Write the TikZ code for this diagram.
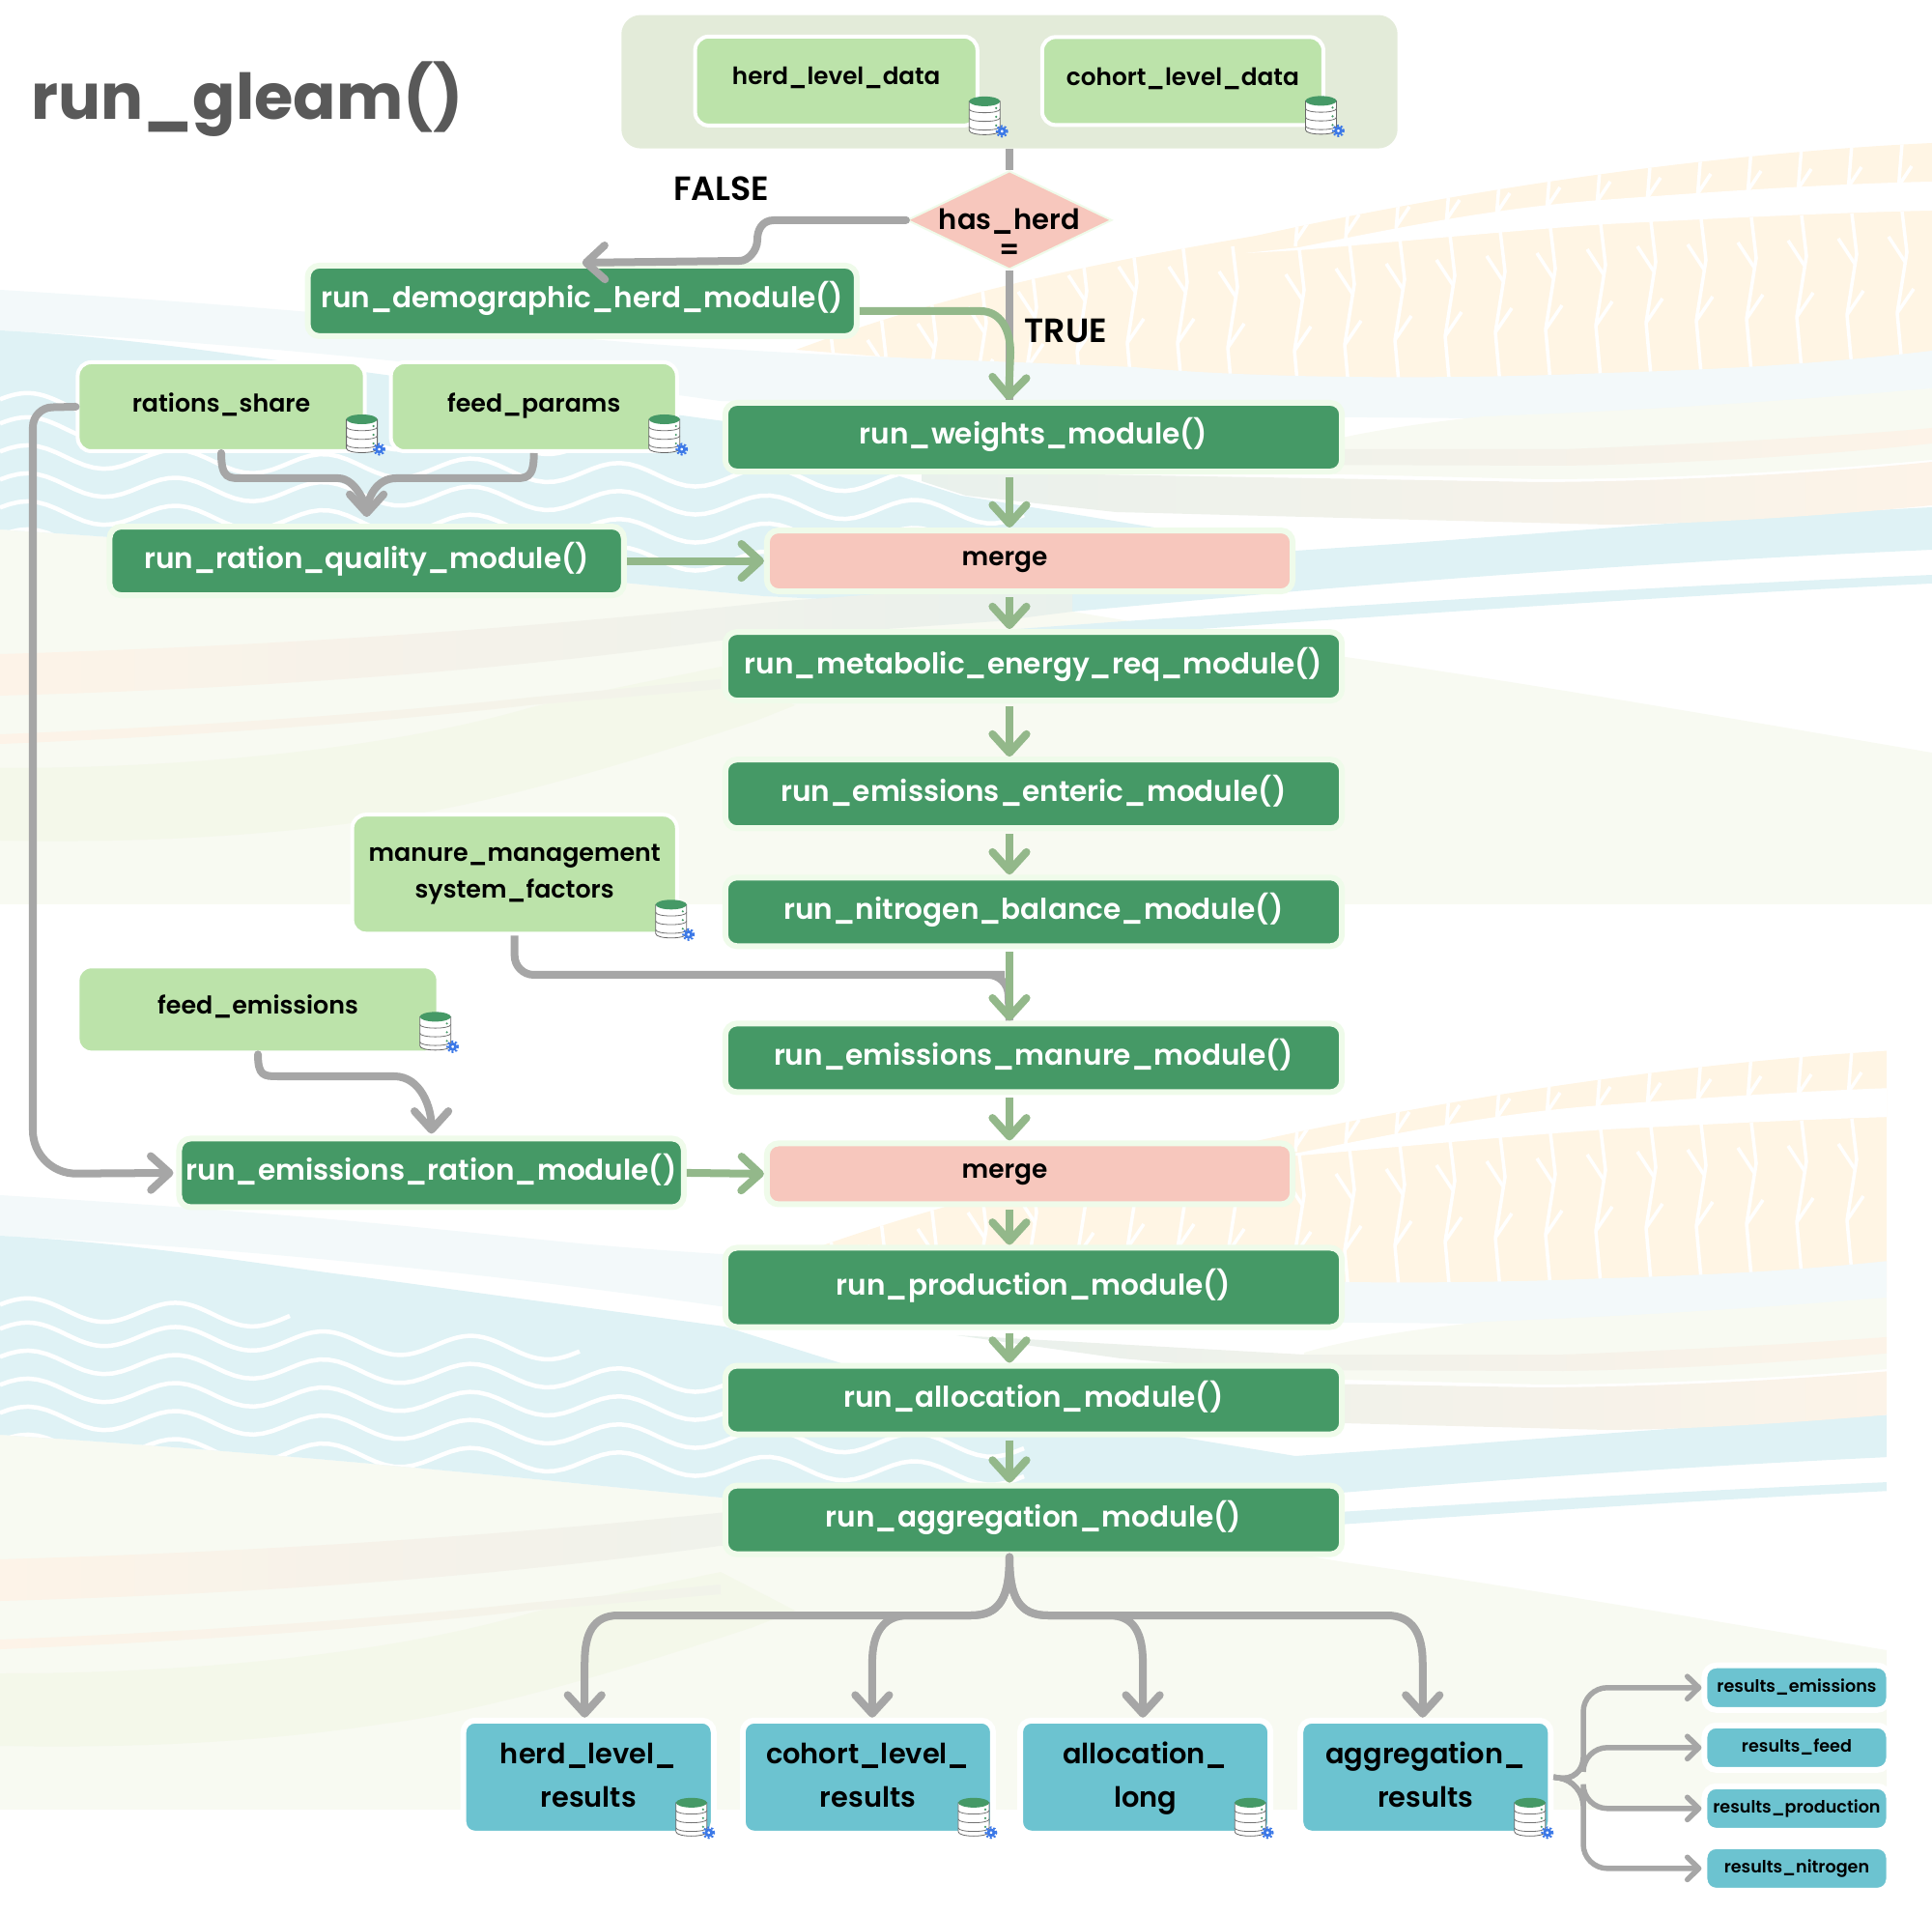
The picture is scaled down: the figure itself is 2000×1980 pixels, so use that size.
\documentclass[tikz,border=0pt]{standalone}
\usepackage{fontspec}
\setmainfont{Poppins}[BoldFont=* SemiBold]
\newfontfamily\headfont{Poppins}
\usetikzlibrary{positioning, arrows.meta, shapes.geometric}

\definecolor{modgreen}{HTML}{459966}
\definecolor{modedge}{HTML}{EFFBEA}
\definecolor{datagreen}{HTML}{BCE3AA}
\definecolor{mergepink}{HTML}{F7C7BD}
\definecolor{resblue}{HTML}{6CC3D0}
\definecolor{panelgreen}{HTML}{E3EBD9}
\definecolor{sage}{HTML}{93B88A}
\definecolor{pipegray}{HTML}{A6A6A6}
\definecolor{titlegray}{HTML}{595959}
\definecolor{gearblue}{HTML}{3B78E7}
\definecolor{bgcream}{HTML}{FFF5E4}
\definecolor{bgblue}{HTML}{DFF2F5}
\definecolor{bgpale}{HTML}{F3F9FA}
\definecolor{bgfield}{HTML}{F8FAF2}
\definecolor{bgmoss}{HTML}{F4F8EA}
\definecolor{bgmist}{HTML}{E9F1EC}
\definecolor{bgdust}{HTML}{F1F3EA}
\definecolor{bgpeach}{HTML}{FDF3E8}

\tikzset{
    modbox/.style={rectangle, rounded corners=.12cm, fill=modgreen, draw=modedge,
        line width=.06cm, minimum width=6.38cm, minimum height=.71cm, inner sep=0pt,
        text=white, text height=.22cm, text depth=.07cm,
        font=\fontsize{8.4}{10}\selectfont\bfseries},
    mergebox/.style={modbox, fill=mergepink, minimum width=5.44cm, minimum height=.63cm,
        text=black, text height=.15cm, text depth=.06cm,
        font=\fontsize{7.5}{9}\selectfont\bfseries},
    databox/.style={rectangle, rounded corners=.14cm, fill=datagreen, draw=white,
        line width=.04cm, inner sep=0pt, align=center, text=black,
        font=\fontsize{7.2}{10.9}\selectfont\bfseries},
    resbox/.style={rectangle, rounded corners=.12cm, fill=resblue, draw=white,
        line width=.06cm, minimum width=2.59cm, minimum height=1.17cm, inner sep=0pt,
        align=center, text=black, text height=.73cm, text depth=.1cm,
        font=\fontsize{8.2}{13}\selectfont\bfseries},
    tablebox/.style={resbox, minimum width=1.91cm, minimum height=.46cm,
        text height=.22cm, text depth=.12cm, font=\fontsize{5}{6}\selectfont\bfseries},
    decision/.style={diamond, fill=mergepink, draw=modedge, line width=.02cm,
        minimum width=2.12cm, minimum height=1.02cm, inner sep=0pt},
    flag/.style={inner sep=0pt, font=\fontsize{9.9}{12}\selectfont\bfseries},
    pipe/.style={draw=pipegray, line width=.08cm, line cap=round},
    pipehead/.style={pipe, -{Straight Barb[length=5.5pt,width=10pt,round]}},
    flow/.style={pipehead, draw=sage, line cap=butt},
    thinpipe/.style={draw=pipegray, line width=.055cm,
        -{Straight Barb[length=3.4pt,width=6.6pt,round]}},
    dbicon/.pic={
        \draw[draw=black!60, line width=.008cm, fill=white] (-16,5) -- (-16,35)
            .. controls (-16,41) and (16,41) .. (16,35) -- (16,5) -- cycle;
        \foreach \h in {13,22,31} {
            \draw[draw=black!55, line width=.008cm] (-16,\h)
                .. controls (-16,\h+5) and (16,\h+5) .. (16,\h);
            \fill[modgreen] (12,\h-1) circle (.012cm);
        }
        \fill[modgreen] (0,5) ellipse [x radius=.16cm, y radius=.05cm];
        \draw[gearblue, line width=.028cm, fill=white] (18,36) circle (.03cm);
        \draw[gearblue, line width=.02cm, dash pattern=on .02cm off .02cm] (18,36) circle (.055cm);
    },
    bgsheet/.pic={
        \fill[bgcream] (824,362) .. controls (1000,297) and (1150,270) .. (1300,244)
            .. controls (1500,200) and (1750,160) .. (2000,148) -- (2000,400) -- (1300,400) -- cycle;
        \fill[white] (1290,262) -- (1345,256) .. controls (1450,235) and (1550,215) .. (1658,207)
            .. controls (1780,198) and (1900,190) .. (2000,188) -- (2000,218)
            .. controls (1900,220) and (1780,226) .. (1663,232) .. controls (1550,240) and (1450,250) .. (1345,259) -- cycle;
        \begin{scope}
            \clip (824,362) .. controls (1000,297) and (1150,270) .. (1300,244)
                .. controls (1500,200) and (1750,160) .. (2000,148) -- (2000,400) -- (1300,400) -- cycle;
            \foreach \sx/\st in {860/345, 912/326, 964/309, 1016/292, 1068/276, 1120/259, 1172/250, 1224/250,
                    1276/255, 1345/258, 1397/252, 1449/247, 1501/243, 1553/239, 1605/236, 1657/232,
                    1709/229, 1761/227, 1813/225, 1865/223, 1917/221, 1969/219} {
                \draw[white, line width=.035cm] (\sx,\st) -- (\sx+5,\st+42) -- (\sx-5,\st+105) -- (\sx,\st+160);
                \draw[white, line width=.035cm] (\sx+3,\st+52) -- (\sx-14,\st+26);
                \draw[white, line width=.035cm] (\sx-5,\st+105) -- (\sx+12,\st+80);
            }
            \foreach \sx/\st in {1345/205, 1397/198, 1449/190, 1501/183, 1553/176, 1605/170, 1657/164,
                    1709/160, 1761/156, 1813/153, 1865/151, 1917/149, 1969/148} {
                \draw[white, line width=.035cm] (\sx,\st) -- (\sx-4,\st+50);
                \draw[white, line width=.035cm] (\sx-4,\st+45) -- (\sx+10,\st+24);
            }
        \end{scope}
        \fill[bgfield] (0,548) .. controls (400,575) and (600,600) .. (790,617) -- (1110,633) -- (1393,680)
            .. controls (1600,710) and (1800,745) .. (2000,779) -- (2000,936) -- (0,936) -- cycle;
        \fill[bgpale] (0,300) .. controls (300,318) and (450,335) .. (600,350)
            .. controls (800,368) and (1000,372) .. (1174,380) .. controls (1300,392) and (1500,393) .. (1663,386)
            .. controls (1800,382) and (1900,375) .. (2000,363) -- (2000,402)
            .. controls (1850,420) and (1650,433) .. (1527,433) -- (1300,431) -- (745,415)
            .. controls (500,380) and (250,355) .. (0,342) -- cycle;
        \fill[bgblue] (0,342) .. controls (150,350) and (270,372) .. (377,385) -- (750,436) -- (995,513) -- (1341,570)
            -- (1460,562) .. controls (1650,548) and (1800,535) .. (2000,525) -- (2000,569)
            .. controls (1800,578) and (1600,590) .. (1341,612) -- (1110,633) -- (790,617)
            .. controls (600,600) and (400,575) .. (0,548) -- cycle;
        \begin{scope}
            \clip (0,342) -- (377,385) -- (750,436) -- (995,513) -- (1341,570) -- (1341,612) -- (1110,633) -- (790,617)
                .. controls (600,600) and (400,575) .. (0,548) -- cycle;
            \foreach \wy/\wend in {417/300, 442/600, 471/1060, 500/1060, 529/1060, 558/1060} {
                \draw[white, line width=.045cm] plot[domain=0:\wend, samples=110]
                    (\x,{\wy+.03*\x-11*cos((\x-30)*2.353)});
            }
        \end{scope}
        \fill[bgblue] (1000,655) .. controls (1400,625) and (1700,608) .. (2000,595) -- (2000,604)
            .. controls (1700,618) and (1400,640) .. (1000,668) -- cycle;
        \fill[bgfield] (1350,463) .. controls (1400,448) and (1470,438) .. (1536,431)
            .. controls (1700,425) and (1850,415) .. (2000,402) -- (2000,476)
            .. controls (1850,490) and (1700,496) .. (1595,496) -- (1350,490) -- cycle;
        \shade[left color=bgmist, right color=bgpeach] (990,445) -- (1350,465) -- (1618,465)
            .. controls (1750,460) and (1900,452) .. (2000,443) -- (2000,459)
            .. controls (1900,470) and (1750,480) .. (1618,482) -- (1300,481) -- (1160,469) -- cycle;
        \shade[left color=bgmist, right color=bgpeach] (954,488) -- (1595,499)
            .. controls (1750,498) and (1900,488) .. (2000,478) -- (2000,523)
            .. controls (1900,533) and (1750,543) .. (1663,543) -- (1155,530) -- (1000,513) -- (954,498) -- cycle;
        \shade[left color=bgpeach, right color=bgmist] (0,677) .. controls (300,668) and (550,650) .. (800,623)
            -- (1110,600) -- (1110,633) -- (1032,643) -- (745,663) .. controls (550,690) and (300,712) .. (0,720) -- cycle;
        \fill[bgmoss] (0,795) .. controls (200,795) and (400,775) .. (547,733)
            .. controls (630,712) and (700,700) .. (746,690) -- (823,730) -- (780,747)
            .. controls (650,790) and (500,835) .. (398,847) .. controls (250,870) and (100,872) .. (0,870) -- cycle;
        \shade[left color=bgpeach, right color=bgdust] (0,760) .. controls (200,752) and (400,738) .. (547,722)
            -- (746,703) -- (746,713) -- (547,730) .. controls (400,747) and (200,762) .. (0,770) -- cycle;
    }
}

\begin{document}
\begin{tikzpicture}[x=0.01cm, y=-0.01cm]
    \useasboundingbox (0,0) rectangle (2000,1980);

    \pic at (0,0) {bgsheet};
    \begin{scope}
        \clip (0,0) rectangle (1953,1980);
        \pic at (0,937) {bgsheet};
    \end{scope}

    \node[modbox] (weights) at (1070,452.5) {run\_weights\_module()};
    \node[mergebox, below=.55cm of weights, xshift=-.04cm] (mergeq) {\hspace*{-.52cm}merge};
    \node[modbox, below=.36cm of mergeq, xshift=.04cm] (metabolic) {run\_metabolic\_energy\_req\_module()};
    \node[modbox, below=.55cm of metabolic] (enteric) {run\_emissions\_enteric\_module()};
    \node[modbox, below=.45cm of enteric] (nitrogen) {run\_nitrogen\_balance\_module()};
    \node[modbox, below=.74cm of nitrogen] (manure) {run\_emissions\_manure\_module()};
    \node[mergebox, below=.47cm of manure, xshift=-.04cm] (mergee) {\hspace*{-.52cm}merge};
    \node[modbox, minimum height=.82cm, below=.39cm of mergee, xshift=.04cm] (production) {run\_production\_module()};
    \node[modbox, below=.34cm of production] (allocation) {run\_allocation\_module()};
    \node[modbox, below=.47cm of allocation] (aggregation) {run\_aggregation\_module()};

    \node[decision, above=1.34cm of weights, xshift=-.25cm] (hasherd) {};
    \node[flag, align=center, font=\fontsize{8.25}{8.8}\selectfont\bfseries, yshift=-.14cm] (hasherdtext) at (hasherd) {has\_herd\\=};
    \node[flag, left=1.41cm of hasherd, yshift=.33cm] (falseflag) {FALSE};
    \node[flag, right=.15cm of hasherd.south, yshift=-.63cm] (trueflag) {TRUE};

    \node[rectangle, rounded corners=.2cm, fill=panelgreen, minimum width=8.03cm,
          minimum height=1.38cm, above=.215cm of hasherd] (panel) {};
    \node[databox, minimum width=2.92cm, minimum height=.92cm, text depth=.106cm,
          font=\fontsize{7}{10.9}\selectfont\bfseries,
          below right=.21cm and .75cm of panel.north west] (herddata) {herd\_level\_data};
    \node[databox, minimum width=2.91cm, minimum height=.91cm, text depth=.09cm,
          font=\fontsize{7.05}{10.9}\selectfont\bfseries,
          right=.63cm of herddata] (cohortdata) {cohort\_level\_data};

    \node[modbox, minimum width=5.68cm, minimum height=.73cm,
          above left=.63cm and -1.42cm of weights] (demographic) {run\_demographic\_herd\_module()};
    \node[modbox, minimum width=5.32cm, left=1.42cm of mergeq] (rationq) {run\_ration\_quality\_module()};
    \node[modbox, minimum width=5.22cm, left=.8cm of mergee, yshift=.01cm] (emrat) {run\_emissions\_ration\_module()};

    \node[databox, minimum width=2.97cm, minimum height=.92cm, text depth=.08cm,
          above left=.73cm and -2.69cm of rationq] (rations) {rations\_share};
    \node[databox, minimum width=2.96cm, minimum height=.92cm, text depth=.08cm,
          right=.23cm of rations] (feedparams) {feed\_params};
    \node[databox, minimum width=3.36cm, minimum height=1.23cm,
          left=.45cm of nitrogen, yshift=.39cm] (mgmt) {manure\_management\\system\_factors};
    \node[databox, minimum width=3.73cm, minimum height=.89cm, text depth=.1cm,
          above left=.84cm and -2.73cm of emrat] (feedem) {feed\_emissions};

    \node[resbox, below=1.66cm of aggregation, xshift=-1.715cm] (cohortres) {cohort\_level\_\\results};
    \node[resbox, left=.24cm of cohortres] (herdres) {herd\_level\_\\results};
    \node[resbox, right=.22cm of cohortres] (allocres) {allocation\_\\long};
    \node[resbox, right=.25cm of allocres] (aggres) {aggregation\_\\results};

    \node[tablebox, right=1.53cm of aggres, yshift=.305cm] (tabfeed) {results\_feed};
    \node[tablebox, above=.1cm of tabfeed] (tabemis) {results\_emissions};
    \node[tablebox, below=.11cm of tabfeed] (tabprod) {results\_production};
    \node[tablebox, below=.1cm of tabprod] (tabnitro) {results\_nitrogen};

    \foreach \dn/\dx/\dy in {herddata/5.5/-32, cohortdata/-4.5/-32, rations/-5/-40, feedparams/-15/-40,
            mgmt/-8/-37, feedem/-5/-44, herdres/-26/-40, cohortres/-23/-40, allocres/-24/-40, aggres/-24.5/-40} {
        \pic at ([shift={(\dx,\dy)}]\dn.south east) {dbicon};
    }

    \node[anchor=west, inner sep=0pt, text=titlegray, font=\headfont\fontsize{18.6}{22}\selectfont\bfseries] (title) at (32,103) {run\_gleam()};

    \draw[pipe, line cap=butt] (panel.south) -- (hasherd.north);
    \draw[pipe, line cap=butt] (hasherd.south) -- (weights.north -| hasherd);
    \draw[pipehead] (hasherd.west) -- (801,228) .. controls +(-12,0) and +(0,-10) .. (784,248)
        .. controls +(0,12) and +(8,0) .. (766,270) -- (demographic.north);
    \draw[flow] (demographic.east |- 0,322) -- (1015,322) .. controls +(20,0) and +(0,-25) .. (1046,365) -- ([xshift=-.01cm]weights.north -| hasherd);

    \draw[pipe, line cap=butt, rounded corners=.2cm] (mgmt.south) |- (1020,1009) -- ++(23,0) -- (manure.north -| hasherd);
    \foreach \ua/\ub in {weights/mergeq, mergeq/metabolic, metabolic/enteric, enteric/nitrogen, nitrogen/manure,
            manure/mergee, mergee/production, production/allocation, allocation/aggregation} {
        \draw[flow, shorten <=.03cm] (\ua.south -| hasherd) -- (\ub.north -| hasherd);
    }
    \draw[flow] (rationq.east) -- (mergeq.west);
    \draw[flow] (emrat.east) -- (mergee.west);

    \draw[pipehead, shorten >=.07cm] (rations.south) .. controls +(0,27) and +(-15,0) .. (252,495) -- (350,495) .. controls +(20,0) and +(0,-15) .. (rationq.north);
    \draw[pipe, line cap=butt] (feedparams.south) .. controls +(0,27) and +(15,0) .. (530,495) -- (410,495) .. controls +(-20,0) and +(0,-15) .. (380,530);
    \draw[pipehead, shorten >=.03cm, rounded corners=.2cm] (rations.west) -- (34,422) [rounded corners=.45cm] -- (34,1215) -- (emrat.west);
    \draw[pipehead, shorten >=.02cm] (feedem.south) .. controls +(0,22) and +(-14,0) .. (287,1114) -- (408,1114) .. controls +(28,0) and +(0,-28) .. (emrat.north);

    \draw[pipehead] (aggregation.south -| hasherd) .. controls +(0,42) and +(30,0) .. (1005,1672) -- (640,1672)
        .. controls +(-26,0) and +(0,-30) .. ([shift={(-4,-57)}]herdres.north) -- ([xshift=-.04cm]herdres.north);
    \draw[pipehead] (aggregation.south -| hasherd) .. controls +(0,42) and +(30,0) .. (1005,1672) -- (940,1672)
        .. controls +(-26,0) and +(0,-30) .. ([shift={(4.5,-57)}]cohortres.north) -- ([xshift=.045cm]cohortres.north);
    \draw[pipehead] (aggregation.south -| hasherd) .. controls +(0,42) and +(-30,0) .. (1085,1672) -- (1148,1672)
        .. controls +(26,0) and +(0,-30) .. ([shift={(-2.5,-57)}]allocres.north) -- ([xshift=-.025cm]allocres.north);
    \draw[pipehead] (aggregation.south -| hasherd) .. controls +(0,42) and +(-30,0) .. (1085,1672) -- (1436,1672)
        .. controls +(26,0) and +(0,-30) .. ([shift={(-3,-57)}]aggres.north) -- ([xshift=-.03cm]aggres.north);

    \foreach \tb in {tabemis, tabfeed, tabprod, tabnitro} {
        \draw[thinpipe, rounded corners=.25cm] (aggres.east) -- (1639,1844) -- (1639,1844 |- \tb.west) -- (\tb.west);
    }
\end{tikzpicture}
\end{document}
